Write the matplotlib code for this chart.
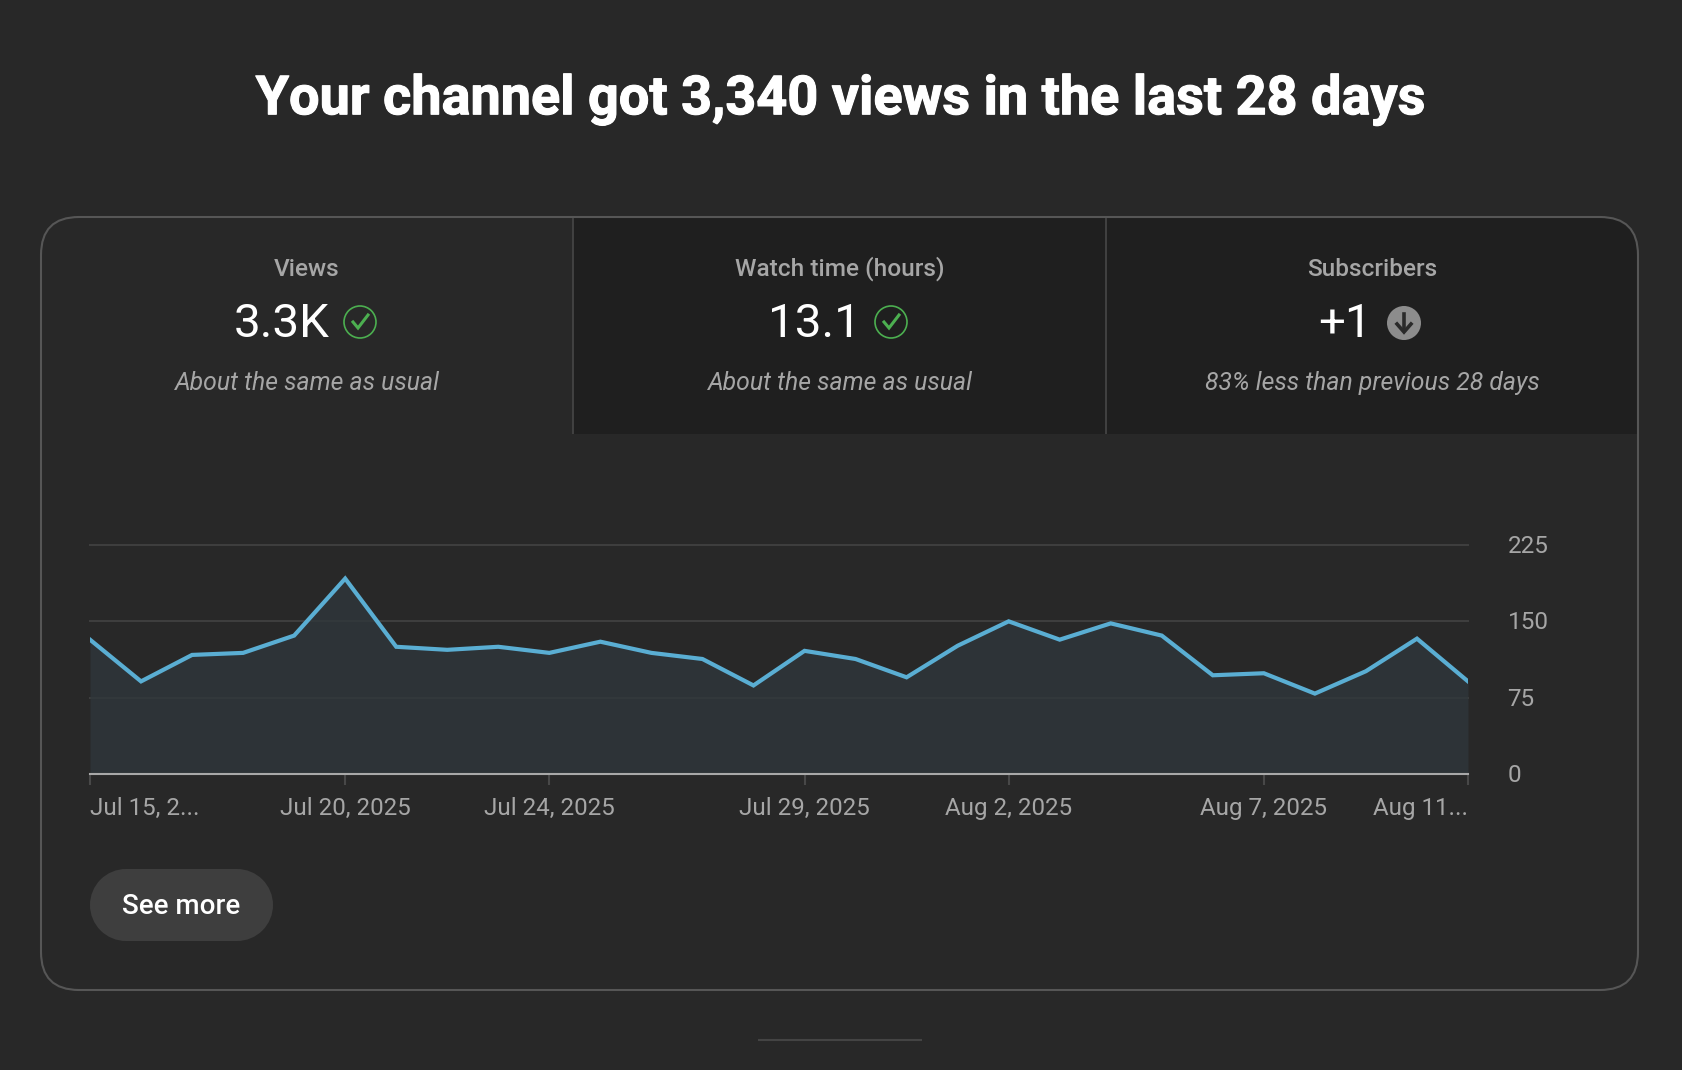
import pandas as pd
import matplotlib
matplotlib.use('Agg')
import matplotlib.pyplot as plt
import matplotlib.patheffects as pe
from matplotlib.patches import FancyBboxPatch, Rectangle, Circle
from matplotlib.transforms import ScaledTranslation

plt.rcParams['font.family'] = ['Roboto', 'DejaVu Sans']

views = [132, 91, 117, 119, 136, 192, 125, 122, 125, 119, 130, 119, 113, 87,
         121, 113, 95, 126, 150, 132, 148, 136, 97, 99, 79, 101, 133, 91]
tick_dates = ['2025-07-15', '2025-07-20', '2025-07-24', '2025-07-29', '2025-08-02', '2025-08-07', '2025-08-11']
tick_labels = ['Jul 15, 2...', 'Jul 20, 2025', 'Jul 24, 2025', 'Jul 29, 2025', 'Aug 2, 2025', 'Aug 7, 2025', 'Aug 11...']
y_ticks = [0, 75, 150, 225]
tab_titles = ['Views', 'Watch time (hours)', 'Subscribers']
tab_values = ['3.3K', '13.1', '+1']
tab_notes = ['About the same as usual', 'About the same as usual', '83% less than previous 28 days']

BG = '#282828'
DARK = '#1f1f1f'
EDGE = '#565656'
GREY = '#a6a6a6'
W, H = 1682, 1070

days = pd.date_range('2025-07-15', periods=len(views))

fig = plt.figure(figsize=(W / 100, H / 100), dpi=100, facecolor=BG)

# page layer in pixel coordinates, y pointing down
bg = fig.add_axes([0, 0, 1, 1])
bg.set_xlim(0, W)
bg.set_ylim(H, 0)
bg.axis('off')

card = FancyBboxPatch((41, 217), 1597, 773, boxstyle='round,pad=0,rounding_size=38',
                      fc='none', ec=EDGE, lw=1.5, zorder=3)
bg.add_patch(card)

# unselected tabs sit inside the rounded card
dark_tabs = Rectangle((573, 217), 1065, 217, fc=DARK, ec='none', zorder=1)
bg.add_patch(dark_tabs)
dark_tabs.set_clip_path(card)
for x in [573, 1106]:
    bg.plot([x, x], [217, 434], color='#444444', lw=1.3, zorder=2, solid_capstyle='butt')

bg.text(840, 100, 'Your channel got 3,340 views in the last 28 days', color='white',
        fontsize=38.9, fontweight='bold', ha='center', va='center',
        path_effects=[pe.withStroke(linewidth=0.8, foreground='white')])

centers = [307, 840, 1372]
value_x = [281.5, 814, 1345]
icon_x = [360, 891, 1404]
for i in range(3):
    bg.text(centers[i], 269, tab_titles[i], color=GREY, fontsize=17.6, fontweight='medium', ha='center', va='center')
    bg.text(value_x[i], 324, tab_values[i], color='white', fontsize=34.2, ha='center', va='center')
    bg.text(centers[i], 383, tab_notes[i], color=GREY, fontsize=17.8, style='italic', ha='center', va='center')

# status icons next to the values
for x in icon_x[:2]:
    bg.add_patch(Circle((x, 322), 16, fc='none', ec='#4caf50', lw=1.2, zorder=4))
    bg.plot([x - 7, x - 2, x + 8], [322, 328, 315], color='#4caf50', lw=2.2, zorder=4,
            solid_joinstyle='miter')
x = icon_x[2]
bg.add_patch(Circle((x, 323), 17, fc='#8c8c8c', ec='none', zorder=4))
bg.plot([x, x], [314, 328], color='#2a2a2a', lw=2.6, zorder=5)
bg.plot([x - 7, x, x + 7], [324, 332, 324], color='#2a2a2a', lw=2.6, zorder=5, solid_joinstyle='miter')

# See more button, a true pill shape
bg.add_patch(Rectangle((126, 869), 111, 72, fc='#3e3e3e', ec='none', zorder=2))
bg.add_patch(Circle((126, 905), 36, fc='#3e3e3e', ec='none', zorder=2))
bg.add_patch(Circle((237, 905), 36, fc='#3e3e3e', ec='none', zorder=2))
bg.text(181.5, 906, 'See more', color='white', fontsize=20, fontweight='medium', ha='center', va='center', zorder=3)

bg.plot([758, 922], [1040, 1040], color='#444444', lw=1.5, solid_capstyle='butt')

# area chart
ax = fig.add_axes([90 / W, (H - 774) / H, 1378 / W, 229 / H], facecolor='none')
ax.set_xlim(days[0], days[-1])
ax.set_ylim(0, 225)
for s in ax.spines.values():
    s.set_visible(False)
ax.spines['bottom'].set_visible(True)
ax.spines['bottom'].set_color('#a8a8a8')
ax.spines['bottom'].set_linewidth(1.5)
ax.spines['bottom'].set_zorder(6)

# the top gridline sits on the axes edge, so it must not be clipped
ax.grid(axis='y', color='#3e3e3e', lw=1.5, clip_on=False)
ax.set_axisbelow(True)
ax.fill_between(days, views, 0, color='#2f373b', alpha=0.8, lw=0, zorder=2)
ax.plot(days, views, color='#5aaed3', lw=3, zorder=4, solid_joinstyle='miter')

ax.set_xticks(pd.to_datetime(tick_dates), tick_labels)
ax.tick_params(axis='x', length=8, width=1.5, color='#484848', labelcolor=GREY, labelsize=17.4, pad=8.5)
labels = ax.get_xticklabels()
labels[0].set_ha('left')
labels[-1].set_ha('right')

ax.yaxis.tick_right()
ax.set_yticks(y_ticks)
ax.tick_params(axis='y', length=0, labelcolor=GREY, labelsize=17.5, pad=28.5)
nudge = ScaledTranslation(0, 1 / 100, fig.dpi_scale_trans)
for t in ax.get_yticklabels():
    t.set_transform(t.get_transform() + nudge)

fig.savefig('out.png', dpi=100, facecolor=BG)
